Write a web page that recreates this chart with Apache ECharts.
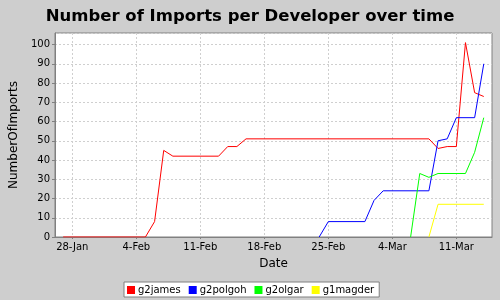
<!DOCTYPE html>
<html>
<head>
<meta charset="utf-8">
<script src="https://cdn.jsdelivr.net/npm/echarts@6/dist/echarts.min.js"></script>
<style>html,body{margin:0;padding:0;background:#cecece;}#c{width:500px;height:300px;}</style>
</head>
<body>
<div id="c"></div>
<script>
// Data (dates are in the same year; day 0 = 28-Jan)
const seriesNames = ['g2james', 'g2polgoh', 'g2olgar', 'g1magder'];
const jamesDates = ['27-Jan','5-Feb','6-Feb','7-Feb','8-Feb','13-Feb','14-Feb','15-Feb','16-Feb','8-Mar','9-Mar','10-Mar','11-Mar','12-Mar','13-Mar','14-Mar'];
const jamesValues = [0,0,8,45,42,42,47,47,51,51,46,47,47,101,75,73];
const polgohDates = ['24-Feb','25-Feb','1-Mar','2-Mar','3-Mar','8-Mar','9-Mar','10-Mar','11-Mar','13-Mar','14-Mar'];
const polgohValues = [0,8,8,19,24,24,50,51,62,62,90];
const olgarDates = ['6-Mar','7-Mar','8-Mar','9-Mar','12-Mar','13-Mar','14-Mar'];
const olgarValues = [0,33,31,33,33,44,62];
const magderDates = ['8-Mar','9-Mar','14-Mar'];
const magderValues = [0,17,17];
const xTickLabels = ['28-Jan','4-Feb','11-Feb','18-Feb','25-Feb','4-Mar','11-Mar'];
const colors = ['#ff0000','#0000ff','#00ff00','#ffff00'];

const monthIdx = {Jan:0, Feb:1, Mar:2};
function dayOffset(s){
  const [d,m] = s.split('-');
  const t = Date.UTC(2007, monthIdx[m], +d);
  const base = Date.UTC(2007, 0, 28);
  return Math.round((t - base) / 86400000);
}
const labelByOffset = {};
xTickLabels.forEach(l => labelByOffset[dayOffset(l)] = l);
const tickOffsets = xTickLabels.map(dayOffset);

function pts(dates, vals){ return dates.map((d,i)=>[dayOffset(d), vals[i]]); }
const allData = [pts(jamesDates,jamesValues), pts(polgohDates,polgohValues), pts(olgarDates,olgarValues), pts(magderDates,magderValues)];

const font = 'DejaVu Sans';
const gridColor = '#cfcfcf';
const chart = echarts.init(document.getElementById('c'), null, {renderer:'canvas'});
chart.setOption({
  backgroundColor: '#cecece',
  animation: false,
  title: {
    text: 'Number of Imports per Developer over time',
    left: 'center', top: 3,
    textStyle: {fontFamily: font, fontWeight: 'bold', fontSize: 16.5, color: '#000'}
  },
  legend: {
    data: seriesNames.map((n,i)=>({name:n, icon:'rect', itemStyle:{color:colors[i]}})),
    left: 124, top: 282,
    backgroundColor: '#ffffff',
    borderColor: '#808080', borderWidth: 1,
    padding: [3, 5, 2, 3],
    itemWidth: 8, itemHeight: 8, itemGap: 8,
    textStyle: {fontFamily: font, fontSize: 10, color: '#000', padding: [0,0,0,-2]}
  },
  grid: {left: 55, top: 33, right: 8, bottom: 63, show: true, backgroundColor: '#ffffff', borderColor: '#808080', borderWidth: 1},
  xAxis: {
    type: 'value', min: -1.89, max: 45.9,
    name: 'Date', nameLocation: 'middle', nameGap: 21,
    nameTextStyle: {fontFamily: font, fontSize: 12, color: '#000'},
    axisLine: {show: true, onZero: false, lineStyle: {color: '#808080'}},
    axisTick: {show: true, length: 2, customValues: tickOffsets, lineStyle: {color: '#808080'}},
    axisLabel: {customValues: tickOffsets, formatter: v => labelByOffset[v] || '', fontFamily: font, fontSize: 10, color: '#000', margin: 5},
    splitLine: {show: true, showMinLine: true, lineStyle: {color: gridColor, type: [2,2], width: 1}}
  },
  yAxis: {
    type: 'value', min: 0, max: 106, interval: 10,
    name: 'NumberOfImports', nameLocation: 'middle', nameGap: 30, nameRotate: 90,
    nameTextStyle: {fontFamily: font, fontSize: 12, color: '#000'},
    axisLine: {show: true, onZero: false, lineStyle: {color: '#808080'}},
    axisTick: {show: true, length: 3, lineStyle: {color: '#808080'}},
    axisLabel: {showMaxLabel: false, fontFamily: font, fontSize: 10, color: '#000', margin: 5},
    splitLine: {show: true, lineStyle: {color: gridColor, type: [2,2], width: 1}}
  },
  series: seriesNames.map((n,i)=>({
    name: n, type: 'line', data: allData[i], showSymbol: false, symbol: 'none',
    lineStyle: {color: colors[i], width: 1}, itemStyle: {color: colors[i]},
    z: 2 + i
  }))
});
</script>
</body>
</html>
